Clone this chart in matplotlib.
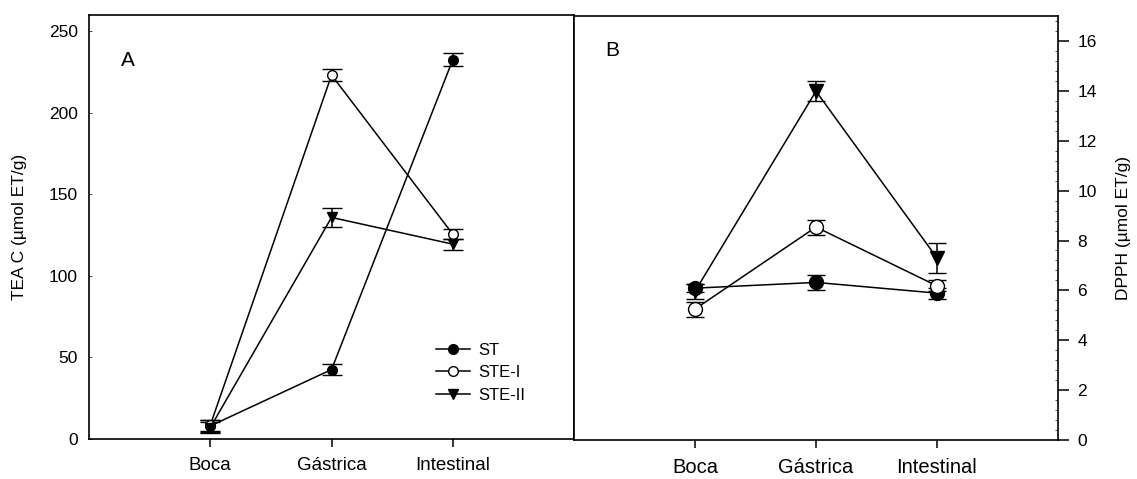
import matplotlib.pyplot as plt
from matplotlib.lines import Line2D
from matplotlib.ticker import MultipleLocator

plt.rcParams['font.family'] = ['Liberation Sans', 'DejaVu Sans']

# datos
etapas = ["Boca", "Gástrica", "Intestinal"]
x = [1, 2, 3]

# panel A: TEAC (µmol ET/g)
teac_st = [8, 42.6, 232.7]
teac_st_err = [3.4, 3.4, 3.9]
teac_ste1 = [8.5, 223.2, 125.6]
teac_ste1_err = [3.4, 3.9, 3.0]
teac_ste2 = [7, 135.9, 119.5]
teac_ste2_err = [3.4, 6.0, 3.3]

# panel B: DPPH (µmol ET/g)
dpph_st = [6.09, 6.32, 5.89]
dpph_st_err = [0.17, 0.3, 0.22]
dpph_ste1 = [5.25, 8.54, 6.18]
dpph_ste1_err = [0.3, 0.3, 0.22]
dpph_ste2 = [5.96, 13.99, 7.3]
dpph_ste2_err = [0.3, 0.41, 0.6]

series = ["ST", "STE-I", "STE-II"]
marcadores = [dict(marker="o", mfc="black"),
              dict(marker="o", mfc="white"),
              dict(marker="v", mfc="black")]

fig = plt.figure(figsize=(11.37, 4.79), dpi=100)
ax_a = fig.add_axes([0.0783, 0.0835, 0.4266, 0.885])
ax_b = fig.add_axes([0.5048, 0.0814, 0.4257, 0.885])


def dibujar(ax, datos, errores, ms, caps):
    for nombre, y, e, m in zip(series, datos, errores, marcadores):
        ax.errorbar(x, y, yerr=e, color="black", lw=1.1, ms=ms, mec="black",
                    mew=1.0, capsize=caps, capthick=1.1, elinewidth=1.1,
                    label=nombre, **m)
    ax.set_xlim(0, 4)
    ax.set_xticks(x)
    for s in ax.spines.values():
        s.set_linewidth(1.2)


dibujar(ax_a, [teac_st, teac_ste1, teac_ste2],
        [teac_st_err, teac_ste1_err, teac_ste2_err], 7, 7)
ax_a.set_ylim(0, 260)
ax_a.set_yticks([0, 50, 100, 150, 200, 250])
ax_a.set_xticklabels(etapas, fontsize=13.5)
ax_a.tick_params(axis="x", direction="out", length=6, width=1.1, pad=7)
ax_a.tick_params(axis="y", direction="in", length=2, width=0.5, labelsize=12.5, pad=8)
ax_a.set_ylabel("TEA C (\u00b5mol ET/g)", fontsize=12.5, labelpad=16)
ax_a.text(0.065, 0.88, "A", transform=ax_a.transAxes, fontsize=15)

manijas = [Line2D([], [], color="black", lw=1.1, ms=7, mec="black", **m)
           for m in marcadores]
ax_a.legend(manijas, series, loc="lower right", bbox_to_anchor=(0.93, 0.05),
            frameon=False, fontsize=12, handlelength=2.0, handletextpad=0.5,
            labelspacing=0.45)

dibujar(ax_b, [dpph_st, dpph_ste1, dpph_ste2],
        [dpph_st_err, dpph_ste1_err, dpph_ste2_err], 10, 6.4)
ax_b.set_ylim(0, 17)
ax_b.set_yticks(range(0, 17, 2))
ax_b.yaxis.set_minor_locator(MultipleLocator(0.4))
ax_b.set_xticklabels(etapas, fontsize=14.5)
ax_b.tick_params(axis="x", direction="out", length=6, width=1.1, pad=7)
ax_b.tick_params(axis="y", which="major", right=True, labelright=True, left=False,
                 labelleft=False, direction="out", length=8, width=1.1, labelsize=12.5, pad=6)
ax_b.tick_params(axis="y", which="minor", right=True, left=False, direction="in",
                 length=2, width=0.5)
ax_b.yaxis.set_label_position("right")
ax_b.set_ylabel("DPPH (\u00b5mol ET/g)", fontsize=12.5, labelpad=14)
ax_b.text(0.065, 0.905, "B", transform=ax_b.transAxes, fontsize=15)

fig.savefig("out.png", dpi=100)
